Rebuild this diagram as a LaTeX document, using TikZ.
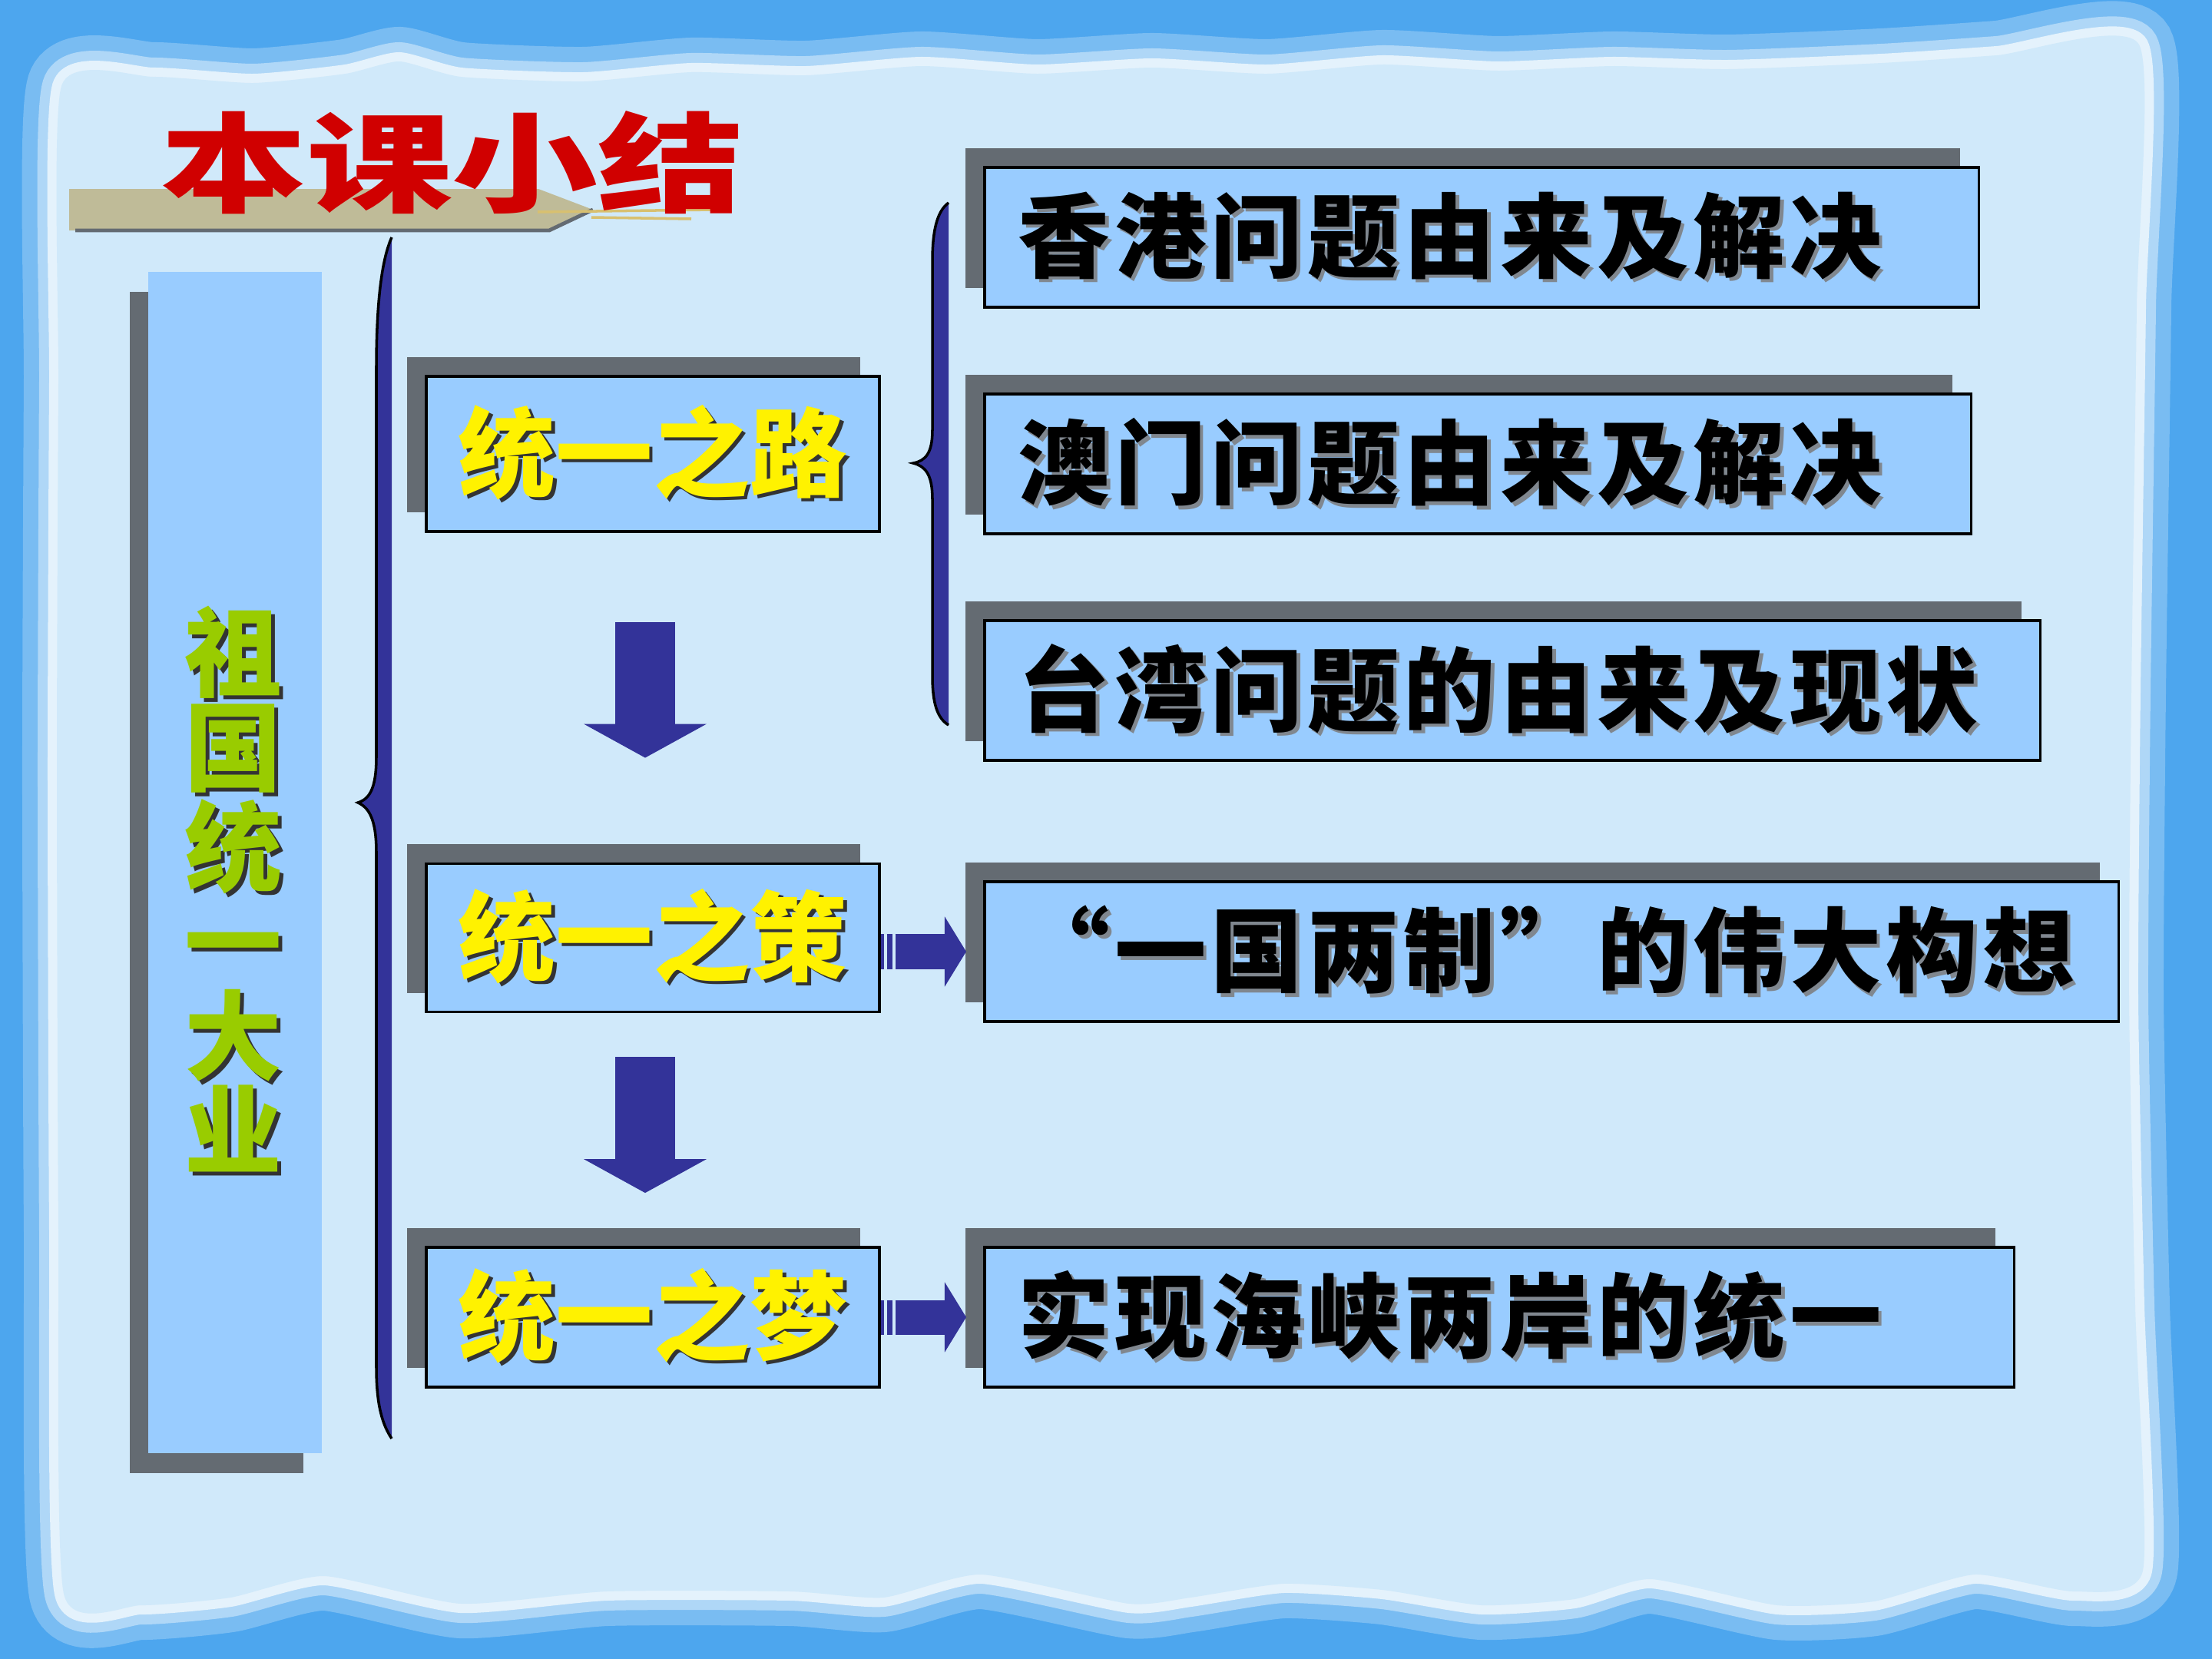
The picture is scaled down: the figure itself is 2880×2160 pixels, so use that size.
\documentclass[tikz,border=0pt]{standalone}
\usepackage{fontspec}
\usetikzlibrary{arrows.meta,shadows}
\newfontfamily\cjk{Noto Sans CJK SC}
\newfontfamily\cjkwide[LetterSpace=5]{Noto Sans CJK SC}
\definecolor{frameblue}{HTML}{4DA6EE}
\definecolor{panelblue}{HTML}{D0E9FA}
\definecolor{boxblue}{HTML}{99CCFF}
\definecolor{shadowgray}{HTML}{646B72}
\definecolor{arrowblue}{HTML}{333399}
\definecolor{titlered}{HTML}{D00000}
\definecolor{leafgreen}{HTML}{99CC00}
\definecolor{tagtan}{HTML}{BFBB98}
\definecolor{tagstring}{HTML}{D8C070}
\definecolor{textshade}{HTML}{80878F}
\newcommand\shtext[3]{\makebox[0pt][l]{\kern1.3pt\raisebox{-1.3pt}{\textcolor{#2}{#3}}}\textcolor{#1}{#3}}
\tikzset{
  frontbox/.style={fill=boxblue,draw=black,line width=1pt,inner sep=0pt,
    general shadow={fill=shadowgray,shadow xshift=-.25cm,shadow yshift=.25cm}},
  stepbox/.style={frontbox,minimum width=5.9cm,font=\cjk\bfseries\fontsize{36}{36}\selectfont},
  topicbox/.style={frontbox,minimum height=1.82cm,inner xsep=.44cm,align=left,
    font=\cjkwide\bfseries\fontsize{34}{34}\selectfont},
  mainbox/.style={fill=boxblue,inner sep=0pt,
    general shadow={fill=shadowgray,shadow xshift=-.24cm,shadow yshift=-.26cm}},
  downflow/.style={-{Triangle[width=1.58cm,length=.44cm]},line width=.78cm,draw=arrowblue},
  sideflow/.style={-{Triangle[width=.9cm,length=.28cm]},line width=.45cm,draw=arrowblue,
    dash pattern=on 1.1pt off 1.1pt on 2pt off 1.1pt on 100pt},
}
\begin{document}
\begin{tikzpicture}[x=.01cm,y=-.01cm]
    \useasboundingbox (0,0) rectangle (2880,2160);
    \fill[frameblue] (0,0) rectangle (2880,2160);
    \path[fill=panelblue,preaction={draw=white!25!frameblue,line width=.9cm},
      preaction={draw=white!55!frameblue,line width=.5cm},preaction={draw=white!85!frameblue,line width=.24cm}]
      plot[smooth cycle,tension=.35] coordinates {(80,112) (200,100) (330,108) (450,96) (520,80) (600,100) (760,106)
      (900,94) (1050,98) (1200,86) (1350,96) (1500,88) (1650,96) (1800,84) (1950,92) (2100,86) (2250,90) (2450,82)
      (2600,72) (2785,58) (2782,400) (2775,900) (2772,1300) (2780,1700) (2790,2045) (2700,2072) (2571,2050)
      (2440,2085) (2314,2090) (2149,2056) (2050,2082) (1929,2090) (1800,2070) (1671,2062) (1550,2080) (1470,2088)
      (1277,2050) (1150,2080) (1029,2072) (790,2072) (600,2088) (422,2052) (300,2080) (184,2090) (83,2075)
      (76,1600) (74,1000) (76,500)};
    % title tag
    \fill[tagtan] (90,246) -- (701,246) -- (772,273) -- (715,300) -- (90,300) -- cycle;
    \draw[shadowgray,line width=1.4pt] (98,300) -- (715,300) -- (772,273);
    \draw[tagstring,line width=1pt] (700,276) -- (930,273) (770,283) -- (900,285);
    \node[font=\cjk\bfseries\fontsize{40}{40}\selectfont,text=titlered] (title) at (589,212) {\scalebox{1.35}[1]{本课小结}};
    % braces
    \path[fill=arrowblue,draw=black,line width=1pt] (510,309) .. controls (496,340) and (490,400) .. (490,480)
      -- (490,985) .. controls (490,1025) and (482,1040) .. (466,1045) .. controls (482,1052) and (490,1070) .. (490,1110)
      -- (490,1780) .. controls (490,1830) and (498,1855) .. (510,1873);
    \path[fill=arrowblue,draw=black,line width=1pt] (1235,264) .. controls (1220,275) and (1214,300) .. (1214,340)
      -- (1214,560) .. controls (1214,590) and (1205,600) .. (1189,603) .. controls (1205,607) and (1214,618) .. (1214,650)
      -- (1214,880) .. controls (1214,915) and (1220,935) .. (1235,944);
    \node[mainbox,minimum width=2.26cm,minimum height=15.38cm] (unity) at (306,1123) {};
    \node[font=\cjk\bfseries\fontsize{36}{35}\selectfont,align=center] (unitytext) at (304,1160)
      {\shtext{leafgreen}{black!80}{祖}\\\shtext{leafgreen}{black!80}{国}\\\shtext{leafgreen}{black!80}{统}\\
       \shtext{leafgreen}{black!80}{一}\\\shtext{leafgreen}{black!80}{大}\\\shtext{leafgreen}{black!80}{业}};
    \node[stepbox,minimum height=2.02cm] (road) at (850,591) {\shtext{yellow}{black!80}{统一之路}};
    \node[stepbox,minimum height=1.93cm] (policy) at (850,1221) {\shtext{yellow}{black!80}{统一之策}};
    \node[stepbox,minimum height=1.82cm] (dream) at (850,1715) {\shtext{yellow}{black!80}{统一之梦}};
    \node[topicbox,text width=12.06cm,anchor=west] (hk) at (1280,309) {\shtext{black}{textshade}{香港问题由来及解决}};
    \node[topicbox,text width=11.96cm,anchor=west] (macao) at (1280,604) {\shtext{black}{textshade}{澳门问题由来及解决}};
    \node[topicbox,text width=12.86cm,anchor=west] (taiwan) at (1280,899) {\shtext{black}{textshade}{台湾问题的由来及现状}};
    \node[topicbox,text width=13.88cm,anchor=west] (twosys) at (1280,1239) {\shtext{black}{textshade}{“一国两制”的伟大构想}};
    \node[topicbox,text width=12.52cm,anchor=west] (strait) at (1280,1715) {\shtext{black}{textshade}{实现海峡两岸的统一}};
    \draw[downflow,shorten <=1.16cm,shorten >=1.36cm] ([xshift=-.1cm]road.south) -- ([xshift=-.1cm]policy.north);
    \draw[downflow,shorten <=.57cm,shorten >=.69cm] ([xshift=-.1cm]policy.south) -- ([xshift=-.1cm]dream.north);
    \draw[sideflow,shorten >=.22cm] (policy.east |- twosys.west) -- (twosys.west);
    \draw[sideflow,shorten >=.22cm] (dream.east |- strait.west) -- (strait.west);
  \end{tikzpicture}
\end{document}
